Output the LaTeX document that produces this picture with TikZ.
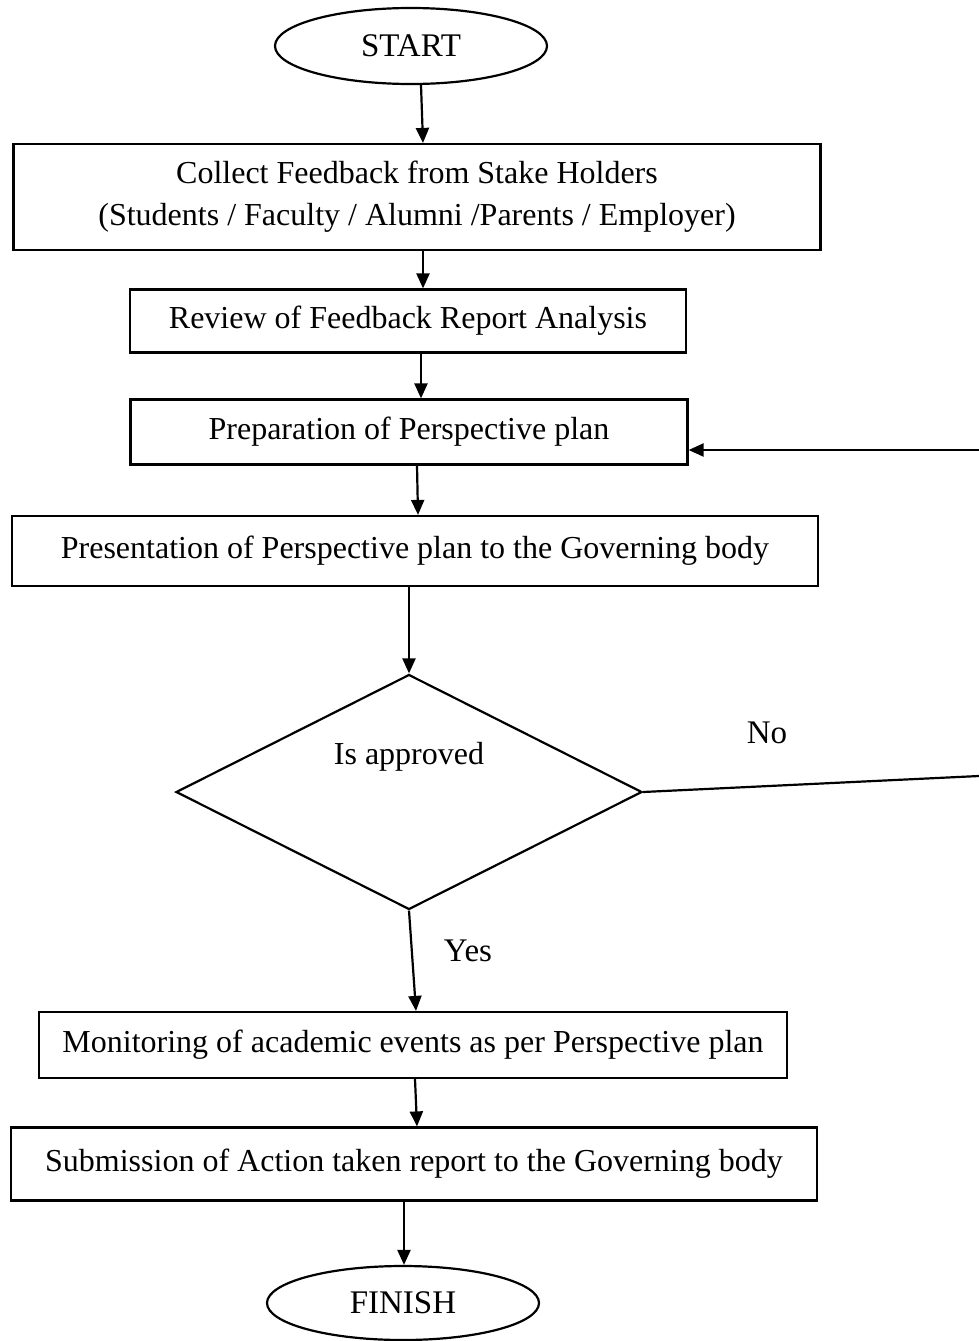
\documentclass[tikz,border=0pt]{standalone}
\usepackage{fontspec}
\setmainfont{Liberation Serif}
\usetikzlibrary{shapes.geometric,arrows.meta,calc}
\begin{document}
\begin{tikzpicture}[x=1pt,y=-1pt,
  every node/.style={font=\fontsize{32}{42}\selectfont},
  box/.style={draw,line width=2.2pt,inner sep=0pt,align=center},
  term/.style={draw,ellipse,line width=2.2pt,inner sep=0pt,font=\fontsize{33}{36}\selectfont},
  lbl/.style={font=\fontsize{33}{36}\selectfont},
  conn/.style={line width=2.2pt,-{Triangle[length=15pt,width=13pt]}},
  plain/.style={line width=2.2pt}]
\useasboundingbox (0,0) rectangle (979,1341);
\fill[white] (0,0) rectangle (979,1341);

\node[term,minimum width=272,minimum height=76] (start) at (411,46) {START};
\node[box,minimum width=807,minimum height=106] (b1) at (417,197)
  {Collect Feedback from Stake Holders\\(Students / Faculty / Alumni /Parents / Employer)};
\node[box,minimum width=556,minimum height=63] (b2) at (408,321) {Review of Feedback Report Analysis};
\node[box,minimum width=557,minimum height=65] (b3) at (409,432) {Preparation of Perspective plan};
\node[box,minimum width=806,minimum height=70] (b4) at (415,551) {Presentation of Perspective plan to the Governing body};
\node[draw,diamond,line width=2.2pt,inner sep=0pt,aspect=2,minimum width=466,minimum height=235] (dec) at (409,792) {};
\node (dect) at (409,757) {Is approved};
\node[lbl] (no) at (767,733) {No};
\node[lbl] (yes) at (468,951) {Yes};
\node[box,minimum width=748,minimum height=66] (b5) at (413,1045) {Monitoring of academic events as per Perspective plan};
\node[box,minimum width=806,minimum height=73] (b6) at (414,1164) {Submission of Action taken report to the Governing body};
\node[term,minimum width=272,minimum height=74] (finish) at (403,1303) {FINISH};

\coordinate (eNo) at (979,776);
\coordinate (eBack) at (979,450);

\draw[conn] ([xshift=10pt]start.south) -- ([xshift=6pt]b1.north);
\draw[conn] ([xshift=6pt]b1.south) -- ([xshift=15pt]b2.north);
\draw[conn] ([xshift=13pt]b2.south) -- ([xshift=12pt]b3.north);
\draw[conn] ([xshift=8pt]b3.south) -- ([xshift=3pt]b4.north);
\draw[conn] ([xshift=-6pt]b4.south) -- (dec.north);
\draw[conn] (dec.south) -- ([xshift=3pt]b5.north);
\draw[conn] ([xshift=2pt]b5.south) -- ([xshift=3pt]b6.north);
\draw[conn] ([xshift=-10pt]b6.south) -- ([xshift=1pt]finish.north);
\draw[plain] (dec.east) -- (eNo);
\draw[conn] (eBack) -- (b3.east |- eBack);
\end{tikzpicture}
\end{document}
